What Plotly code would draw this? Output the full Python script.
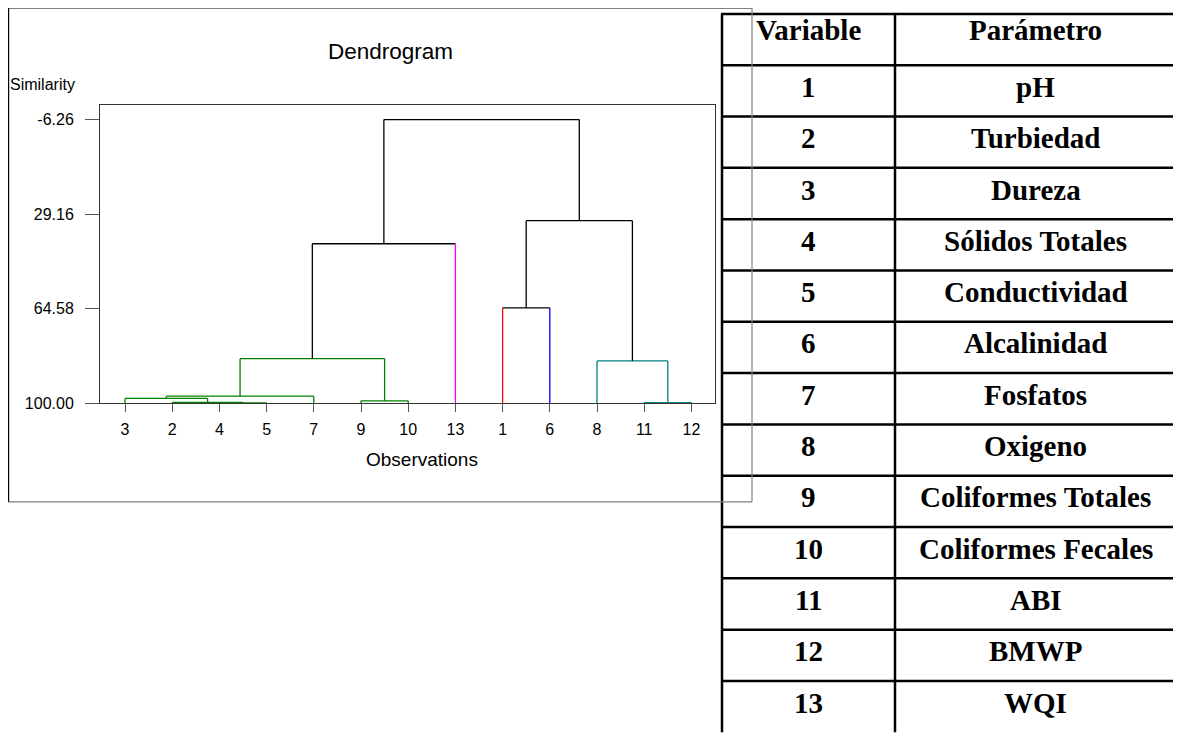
import plotly.graph_objects as go

# page is rendered inside an 8px body margin: work in page pixels and offset
OX, OY = 8, 8
W, H = 1181 - OX, 738 - OY

# ---------------- data ----------------
leaf_order = [3, 2, 4, 5, 7, 9, 10, 13, 1, 6, 8, 11, 12]
# merge list: node "cK" is the result of merge K
merge_a = [4, 2, 11, 9, 3, "c4", "c5", 8, 1, "c6", "c8", "c9"]
merge_b = [5, "c0", 12, 10, "c1", 7, "c3", "c2", 6, 13, "c7", "c10"]
merge_sim = [99.90, 99.74, 99.80, 99.15, 98.26, 97.41, 83.34, 84.19, 64.30, 40.28, 31.62, -6.26]
# final cluster of variables 1..13
leaf_group = ["red", "green", "green", "green", "green", "blue", "green",
              "teal", "green", "green", "teal", "teal", "magenta"]
y_tick_vals = [-6.26, 29.16, 64.58, 100.00]
y_tick_text = ["-6.26", "29.16", "64.58", "100.00"]

table_header = ["Variable", "Parámetro"]
var_numbers = ["1", "2", "3", "4", "5", "6", "7", "8", "9", "10", "11", "12", "13"]
param_names = ["pH", "Turbiedad", "Dureza", "Sólidos Totales", "Conductividad",
               "Alcalinidad", "Fosfatos", "Oxigeno", "Coliformes Totales",
               "Coliformes Fecales", "ABI", "BMWP", "WQI"]

group_color = {"green": "#008000", "teal": "#008080", "red": "#FF0000",
               "blue": "#0000FF", "magenta": "#FF00FF", None: "#000000"}

# ---------------- dendrogram geometry ----------------
pos, height, groups = {}, {}, {}
for i, leaf in enumerate(leaf_order):
    pos[leaf] = i + 1
    height[leaf] = 100.0
    groups[leaf] = {leaf_group[leaf - 1]}


def color_of(n):
    g = groups[n]
    return group_color[next(iter(g))] if len(g) == 1 else group_color[None]


segs = {}


def add(col, xs, ys):
    segs.setdefault(col, ([], []))
    segs[col][0].extend(xs + [None])
    segs[col][1].extend(ys + [None])


for k, (a, b, s) in enumerate(zip(merge_a, merge_b, merge_sim)):
    node = "c%d" % k
    pos[node] = (pos[a] + pos[b]) / 2
    height[node] = s
    groups[node] = groups[a] | groups[b]
    ncol = color_of(node)
    add(ncol, [pos[a], pos[b]], [s, s])
    for ch in (a, b):
        ccol = color_of(ch)
        if ccol == ncol:
            lc = ncol
        elif isinstance(ch, int):
            lc = ccol
        else:
            lc = "#000000"
        add(lc, [pos[ch], pos[ch]], [height[ch], s])

fig = go.Figure()
for col, (xs, ys) in segs.items():
    fig.add_trace(go.Scatter(x=xs, y=ys, mode="lines",
                             line=dict(color=col, width=1.3),
                             hoverinfo="skip", showlegend=False))


def px(x):
    return (x - OX) / W


def py(y):
    return 1 - (y - OY) / H


FONT = "Liberation Sans, Arial, sans-serif"
SERIF = "Liberation Serif, Times New Roman, serif"

fig.update_layout(
    width=W, height=H, margin=dict(l=0, r=0, t=0, b=0),
    paper_bgcolor="white", plot_bgcolor="white", showlegend=False,
    xaxis=dict(domain=[px(100), px(715)], range=[0.47, 13.5],
               tickvals=list(range(1, 14)), ticktext=[str(v) for v in leaf_order],
               ticks="outside", ticklen=8, tickcolor="#555555", tickwidth=1,
               ticklabelstandoff=4,
               showline=True, linecolor="#333333", linewidth=1, mirror=True,
               showgrid=False, zeroline=False,
               tickfont=dict(family=FONT, size=16, color="black")),
    yaxis=dict(domain=[py(408), py(106.5)], range=[100, -11.63],
               tickvals=y_tick_vals, ticktext=y_tick_text,
               ticks="outside", ticklen=14, tickcolor="#555555", tickwidth=1,
               ticklabelstandoff=8,
               showline=True, linecolor="#333333", linewidth=1, mirror=True,
               showgrid=False, zeroline=False,
               tickfont=dict(family=FONT, size=16, color="black")),
)

ann = []
ann.append(dict(text="Dendrogram", x=px(390), y=py(52), xref="paper", yref="paper",
                showarrow=False, xanchor="center", yanchor="middle",
                font=dict(family=FONT, size=22.5, color="black")))
ann.append(dict(text="Similarity", x=px(8), y=py(85), xref="paper", yref="paper",
                showarrow=False, xanchor="left", yanchor="middle",
                font=dict(family=FONT, size=16, color="black")))
ann.append(dict(text="Observations", x=px(422), y=py(465), xref="paper", yref="paper",
                showarrow=False, xanchor="center", yanchor="middle",
                font=dict(family=FONT, size=19, color="black")))

# ---------------- table ----------------
col_x = [722, 895, 1176]
row_top = 14
row_h = 51.95
n_rows = len(var_numbers) + 1
shapes = []
for k in range(n_rows):
    yy = row_top + k * row_h
    shapes.append(dict(type="line", xref="paper", yref="paper",
                       x0=px(col_x[0] - 1), x1=px(col_x[-1] + 1), y0=py(yy), y1=py(yy),
                       line=dict(color="black", width=2.5)))
for xx in col_x:
    shapes.append(dict(type="line", xref="paper", yref="paper",
                       x0=px(xx), x1=px(xx), y0=py(row_top), y1=py(row_top + n_rows * row_h),
                       line=dict(color="black", width=2.5)))

rows = [table_header] + [[v, p] for v, p in zip(var_numbers, param_names)]
for r, (c1, c2) in enumerate(rows):
    yc = row_top + (r + 0.5) * row_h - (10 if r == 0 else 4)
    for c, txt in enumerate((c1, c2)):
        xc = (col_x[c] + col_x[c + 1]) / 2
        ann.append(dict(text=txt, x=px(xc), y=py(yc), xref="paper", yref="paper",
                        showarrow=False, xanchor="center", yanchor="middle",
                        font=dict(family=SERIF, size=29, color="black", weight="bold")))

# outer chart frame
shapes.append(dict(type="line", xref="paper", yref="paper", x0=px(8), x1=px(752),
                   y0=py(8.5), y1=py(8.5), line=dict(color="#808080", width=1)))
shapes.append(dict(type="line", xref="paper", yref="paper", x0=px(752), x1=px(752),
                   y0=py(8), y1=py(508), line=dict(color="#808080", width=1.2)))
shapes.append(dict(type="line", xref="paper", yref="paper", x0=px(8), x1=px(752),
                   y0=py(508), y1=py(508), line=dict(color="#808080", width=1.2)))
shapes.append(dict(type="line", xref="paper", yref="paper", x0=px(8.6), x1=px(8.6),
                   y0=py(8), y1=py(508), line=dict(color="black", width=1.2)))

fig.update_layout(annotations=ann, shapes=shapes)
fig.write_html("out.html")
